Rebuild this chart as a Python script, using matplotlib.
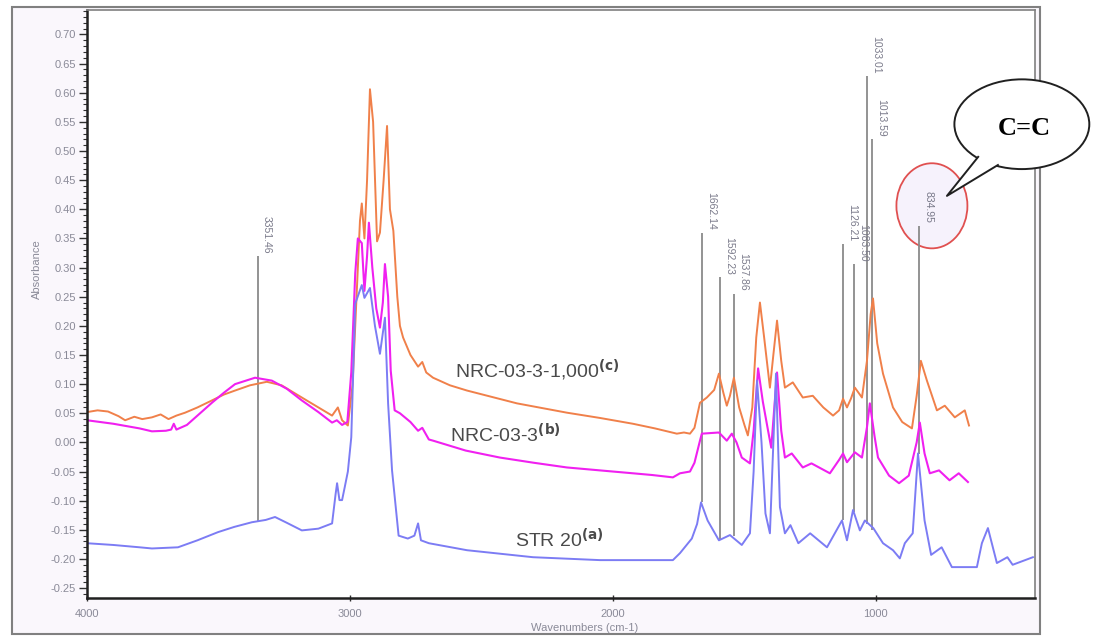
import numpy as np
import matplotlib
matplotlib.use("Agg")
import matplotlib.pyplot as plt
from matplotlib.patches import Ellipse, Rectangle, Polygon

plt.rcParams["font.family"] = ["Liberation Sans", "DejaVu Sans"]
plt.rcParams["axes.unicode_minus"] = False

# ---- data ----
orange_wn = [4000, 3960, 3920, 3880, 3855, 3820, 3790, 3753, 3720, 3690, 3660, 3627,
             3580, 3525, 3480, 3437, 3380, 3316, 3260, 3183, 3120, 3068, 3046, 3030,
             3008, 2990, 2975, 2962, 2955, 2945, 2935, 2924, 2912, 2897, 2886, 2872,
             2859, 2848, 2835, 2820, 2810, 2798, 2770, 2741, 2725, 2710, 2684, 2620,
             2555, 2460, 2365, 2270, 2175, 2050, 1924, 1840, 1757, 1730, 1707, 1690,
             1669, 1643, 1615, 1597, 1580, 1567, 1555, 1540, 1520, 1500, 1487, 1470,
             1455, 1441, 1425, 1403, 1390, 1376, 1360, 1346, 1316, 1278, 1240, 1200,
             1163, 1140, 1125, 1110, 1095, 1080, 1053, 1034, 1020, 1011, 995, 973,
             935, 900, 863, 845, 829, 806, 768, 738, 700, 662, 646]
orange_abs = [0.052, 0.055, 0.053, 0.045, 0.038, 0.044, 0.040, 0.043, 0.048, 0.040, 0.046, 0.051,
              0.060, 0.072, 0.082, 0.089, 0.098, 0.104, 0.098, 0.077, 0.060, 0.046, 0.060, 0.038,
              0.029, 0.100, 0.250, 0.380, 0.410, 0.350, 0.450, 0.606, 0.550, 0.345, 0.360, 0.450,
              0.543, 0.400, 0.363, 0.250, 0.200, 0.180, 0.150, 0.130, 0.138, 0.120, 0.111, 0.098,
              0.089, 0.078, 0.067, 0.059, 0.051, 0.042, 0.032, 0.024, 0.015, 0.017, 0.015, 0.025,
              0.068, 0.077, 0.090, 0.118, 0.085, 0.063, 0.080, 0.111, 0.060, 0.030, 0.012, 0.060,
              0.180, 0.240, 0.180, 0.094, 0.150, 0.209, 0.140, 0.094, 0.103, 0.077, 0.080, 0.060,
              0.046, 0.055, 0.075, 0.060, 0.075, 0.094, 0.077, 0.140, 0.220, 0.247, 0.170, 0.118,
              0.060, 0.035, 0.024, 0.080, 0.140, 0.106, 0.055, 0.063, 0.043, 0.055, 0.029]

magenta_wn = [4000, 3900, 3800, 3753, 3700, 3680, 3670, 3660, 3620, 3570, 3525, 3480,
              3437, 3361, 3297, 3240, 3183, 3120, 3068, 3050, 3030, 3010, 2995, 2980,
              2970, 2955, 2945, 2935, 2928, 2915, 2900, 2886, 2875, 2867, 2855, 2845,
              2830, 2810, 2770, 2741, 2725, 2700, 2684, 2560, 2430, 2300, 2175, 2050,
              1924, 1850, 1772, 1745, 1707, 1690, 1669, 1662, 1630, 1597, 1567, 1548,
              1530, 1510, 1479, 1465, 1448, 1430, 1410, 1398, 1376, 1360, 1346, 1320,
              1278, 1245, 1175, 1140, 1125, 1110, 1080, 1053, 1034, 1023, 1005, 992,
              950, 912, 875, 845, 833, 815, 795, 760, 720, 685, 650]
magenta_abs = [0.038, 0.032, 0.024, 0.019, 0.020, 0.022, 0.032, 0.022, 0.030, 0.050, 0.068, 0.085,
               0.100, 0.111, 0.106, 0.092, 0.072, 0.052, 0.034, 0.038, 0.030, 0.035, 0.120, 0.290,
               0.350, 0.342, 0.260, 0.320, 0.377, 0.300, 0.230, 0.197, 0.240, 0.306, 0.250, 0.123,
               0.055, 0.050, 0.035, 0.020, 0.025, 0.005, 0.003, -0.014, -0.026, -0.035, -0.043, -0.048,
               -0.053, -0.056, -0.060, -0.053, -0.050, -0.035, 0.003, 0.015, 0.016, 0.017, 0.003, 0.015,
               0.000, -0.026, -0.036, 0.020, 0.127, 0.070, 0.020, -0.009, 0.120, 0.020, -0.026, -0.019,
               -0.043, -0.036, -0.053, -0.030, -0.019, -0.034, -0.017, -0.026, 0.026, 0.067, 0.010, -0.026,
               -0.057, -0.070, -0.057, 0.000, 0.034, -0.019, -0.053, -0.048, -0.065, -0.053, -0.068]

blue_wn = [4000, 3900, 3800, 3753, 3654, 3580, 3502, 3440, 3373, 3320, 3285, 3240,
           3183, 3120, 3068, 3055, 3049, 3040, 3030, 3020, 3008, 2995, 2980, 2955,
           2945, 2924, 2905, 2886, 2867, 2855, 2840, 2815, 2780, 2755, 2741, 2730,
           2700, 2555, 2304, 2049, 1772, 1745, 1700, 1680, 1665, 1640, 1597, 1555,
           1510, 1479, 1465, 1452, 1435, 1420, 1403, 1380, 1365, 1346, 1325, 1295,
           1250, 1186, 1129, 1110, 1087, 1061, 1042, 1010, 973, 935, 909, 890,
           860, 840, 815, 790, 750, 711, 616, 597, 574, 540, 500, 480, 403]
blue_abs = [-0.173, -0.176, -0.180, -0.182, -0.180, -0.168, -0.154, -0.145, -0.137, -0.133, -0.128, -0.138,
            -0.151, -0.148, -0.139, -0.090, -0.070, -0.099, -0.099, -0.077, -0.050, 0.009, 0.238, 0.270,
            0.248, 0.265, 0.200, 0.152, 0.214, 0.067, -0.048, -0.160, -0.165, -0.160, -0.139, -0.168,
            -0.173, -0.185, -0.197, -0.202, -0.202, -0.190, -0.165, -0.140, -0.103, -0.134, -0.168, -0.159,
            -0.176, -0.156, -0.050, 0.106, 0.000, -0.122, -0.156, 0.118, -0.111, -0.156, -0.142, -0.173,
            -0.156, -0.180, -0.134, -0.168, -0.116, -0.151, -0.134, -0.147, -0.173, -0.185, -0.199, -0.173,
            -0.156, -0.019, -0.134, -0.193, -0.180, -0.214, -0.214, -0.173, -0.147, -0.207, -0.197, -0.210, -0.197]

peak_labels = ["3351.46", "1662.14", "1592.23", "1537.86", "1126.21",
               "1083.50", "1033.01", "1013.59", "834.95"]
peak_wn = [3351.46, 1662.14, 1592.23, 1537.86, 1126.21, 1083.50, 1033.01, 1013.59, 834.95]
peak_top = [0.32, 0.36, 0.283, 0.255, 0.34, 0.306, 0.628, 0.52, 0.372]
peak_bottom = [-0.137, -0.103, -0.168, -0.160, -0.134, -0.120, -0.140, -0.150, -0.020]

y_ticks = [round(v, 2) + 0.0 for v in np.arange(-0.25, 0.7001, 0.05)]
y_tick_labels = ["0.00" if abs(v) < 1e-9 else f"{v:.2f}" for v in y_ticks]
x_ticks = [4000, 3000, 2000, 1000]

# ---- figure ----
fig = plt.figure(figsize=(10.95, 6.39), dpi=100, facecolor="white")
frame = Rectangle((12 / 1095, 1 - 634 / 639), (1040 - 12) / 1095, (634 - 7) / 639,
                  transform=fig.transFigure, facecolor="#faf7fc", edgecolor="#808080",
                  lw=1.5, zorder=-5)
fig.patches.append(frame)

ax = fig.add_axes([87 / 1095, 41 / 639, 948 / 1095, 588 / 639])
ax.set_facecolor("white")
ax.set_xlim(4000, 395)
ax.set_ylim(-0.267, 0.742)

ax.plot(orange_wn, orange_abs, color="#f0804a", lw=1.4)
ax.plot(magenta_wn, magenta_abs, color="#f020f0", lw=1.5)
ax.plot(blue_wn, blue_abs, color="#7c7cf4", lw=1.4)

ax.vlines(peak_wn, peak_bottom, peak_top, color="#8a8a8a", lw=1.3, zorder=1)
for lab, wn, top in zip(peak_labels, peak_wn, peak_top):
    ax.annotate(lab, (wn, top), xytext=(3, 2), textcoords="offset points",
                rotation=-90, ha="left", va="bottom", fontsize=7.5, color="#7a7a8a")

txt = dict(fontsize=14, color="#4a4a4a")
ax.text(2601, 0.11, r"NRC-03-3-1,000$^{\mathbf{(c)}}$", **txt)
ax.text(2620, 0.0, r"NRC-03-3$^{\mathbf{(b)}}$", **txt)
ax.text(2373, -0.18, r"STR 20$^{\mathbf{(a)}}$", **txt)

# red circle round the C=C band and the speech bubble
ax.add_patch(Ellipse((787, 0.406), 270, 0.146, facecolor="#f6f2fc",
                     edgecolor="#e05050", lw=1.3, zorder=0.5))
ax.add_patch(Ellipse((445, 0.546), 513, 0.154, facecolor="white",
                     edgecolor="#202020", lw=1.4, zorder=6, clip_on=False))
tail = [(611, 0.49), (730, 0.423), (536, 0.476), (520, 0.51)]
ax.add_patch(Polygon(tail, closed=True, facecolor="white", edgecolor="none",
                     zorder=7, clip_on=False))
ax.plot([611, 730, 536], [0.49, 0.423, 0.476], color="#202020", lw=1.4,
        zorder=8, clip_on=False)
ax.text(434, 0.538, "C=C", fontsize=19, fontweight="bold",
        family=["Liberation Serif", "DejaVu Serif"], ha="center", va="center",
        zorder=9, clip_on=False)

# axes styling
for side in ["left", "bottom"]:
    ax.spines[side].set_color("#202020")
    ax.spines[side].set_linewidth(1.8)
for side in ["top", "right"]:
    ax.spines[side].set_color("#808080")
    ax.spines[side].set_linewidth(1.2)

ax.set_yticks(y_ticks, y_tick_labels)
ax.set_yticks(np.arange(-0.26, 0.741, 0.01), minor=True)
ax.set_xticks(x_ticks, [str(v) for v in x_ticks])
ax.tick_params(axis="y", which="major", length=6, width=1, color="#303030",
               labelsize=8, labelcolor="#8a8a98", pad=2)
ax.tick_params(axis="y", which="minor", length=3, width=0.8, color="#303030")
ax.tick_params(axis="x", which="major", length=4, width=1, direction="inout",
               color="#303030", labelsize=8, labelcolor="#8a8a98", pad=6)

ax.set_xlabel("Wavenumbers (cm-1)", fontsize=8, color="#8a8a98")
ax.xaxis.set_label_coords(0.525, -0.042)
ax.set_ylabel("Absorbance", fontsize=8, color="#8a8a98")
ax.yaxis.set_label_coords(-0.047, 0.56)

fig.savefig("out.png", dpi=100, facecolor=fig.get_facecolor())
